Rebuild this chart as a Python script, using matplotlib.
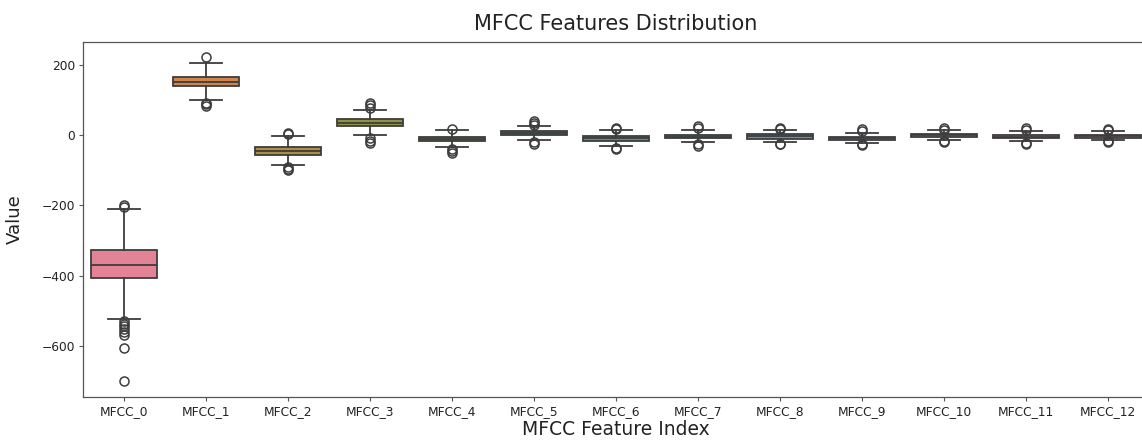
import matplotlib
matplotlib.use("Agg")
import matplotlib.pyplot as plt
import seaborn as sns

features = [f"MFCC_{i}" for i in range(13)]

# Box statistics per coefficient
q1 = [-407, 141, -56, 27, -16, 0, -16, -9, -11, -12, -5, -9, -8]
median = [-369, 153, -45, 36, -10, 6, -9, -4, -3, -9, 0, -4, -3]
q3 = [-326, 167, -33, 46, -5, 12, -2, 1, 5, -5, 4, 0, 2]
whisker_low = [-523, 101, -85, 1, -33, -14, -31, -19, -19, -21, -12, -16, -14]
whisker_high = [-209, 207, -3, 71, 14, 27, 14, 14, 14, 7, 14, 12, 12]
outliers = [
    [-200, -204, -530, -538, -545, -552, -560, -568, -607, -700],
    [222, 93, 88, 84],
    [7, 3, -90, -95, -100],
    [93, 85, 79, -9, -15, -21],
    [19, -40, -45, -50],
    [40, 34, 29, -19, -26],
    [22, 18, -35, -40],
    [27, 20, -26, -31],
    [22, 17, -24, -26],
    [17, 12, -25, -28],
    [20, 16, -17, -19],
    [20, 15, -21, -26],
    [19, 15, -17, -20],
]

stats = []
for name, lo, a, m, b, hi, fl in zip(features, whisker_low, q1, median, q3,
                                        whisker_high, outliers):
    stats.append(dict(label=name, whislo=lo, q1=a, med=m, q3=b, whishi=hi,
                      fliers=fl))

palette = sns.color_palette("husl", len(features), desat=0.72)
line_color = "#3d3d3d"

fig = plt.figure(figsize=(11.42, 4.4), dpi=100)
ax = fig.add_axes([83 / 1142, 1 - 397 / 440, (1149 - 83) / 1142, (397 - 42) / 440])

positions = list(range(len(features)))
bp = ax.bxp(
    stats,
    positions=positions,
    widths=0.8,
    patch_artist=True,
    showfliers=True,
    capwidths=0.4,
    boxprops=dict(edgecolor=line_color, linewidth=1.3),
    medianprops=dict(color=line_color, linewidth=1.3),
    whiskerprops=dict(color=line_color, linewidth=1.3),
    capprops=dict(color=line_color, linewidth=1.3),
    flierprops=dict(marker="o", markersize=6.5, markerfacecolor="none",
                    markeredgecolor=line_color, markeredgewidth=1.1),
)
for patch, col in zip(bp["boxes"], palette):
    patch.set_facecolor(col)

ax.set_xlim(-0.5, len(features) - 0.5)
ax.set_ylim(-746, 266)
ax.set_yticks([-600, -400, -200, 0, 200])
ax.set_xticks(positions)
ax.set_xticklabels(features)
ax.tick_params(axis="both", labelsize=8.8, length=3, pad=2.5,
               color="#555555", labelcolor="#222222")

for side in ["top", "bottom", "left"]:
    ax.spines[side].set_color("#555555")
    ax.spines[side].set_linewidth(0.9)
ax.spines["right"].set_visible(False)

ax.set_title("MFCC Features Distribution", fontsize=15, color="#222222", pad=9)
ax.set_xlabel("MFCC Feature Index", fontsize=13.5, color="#222222", labelpad=2)
ax.set_ylabel("Value", fontsize=13, color="#222222")
ax.yaxis.set_label_coords(-59 / 1066, 0.5)

fig.savefig("out.png", dpi=100)
